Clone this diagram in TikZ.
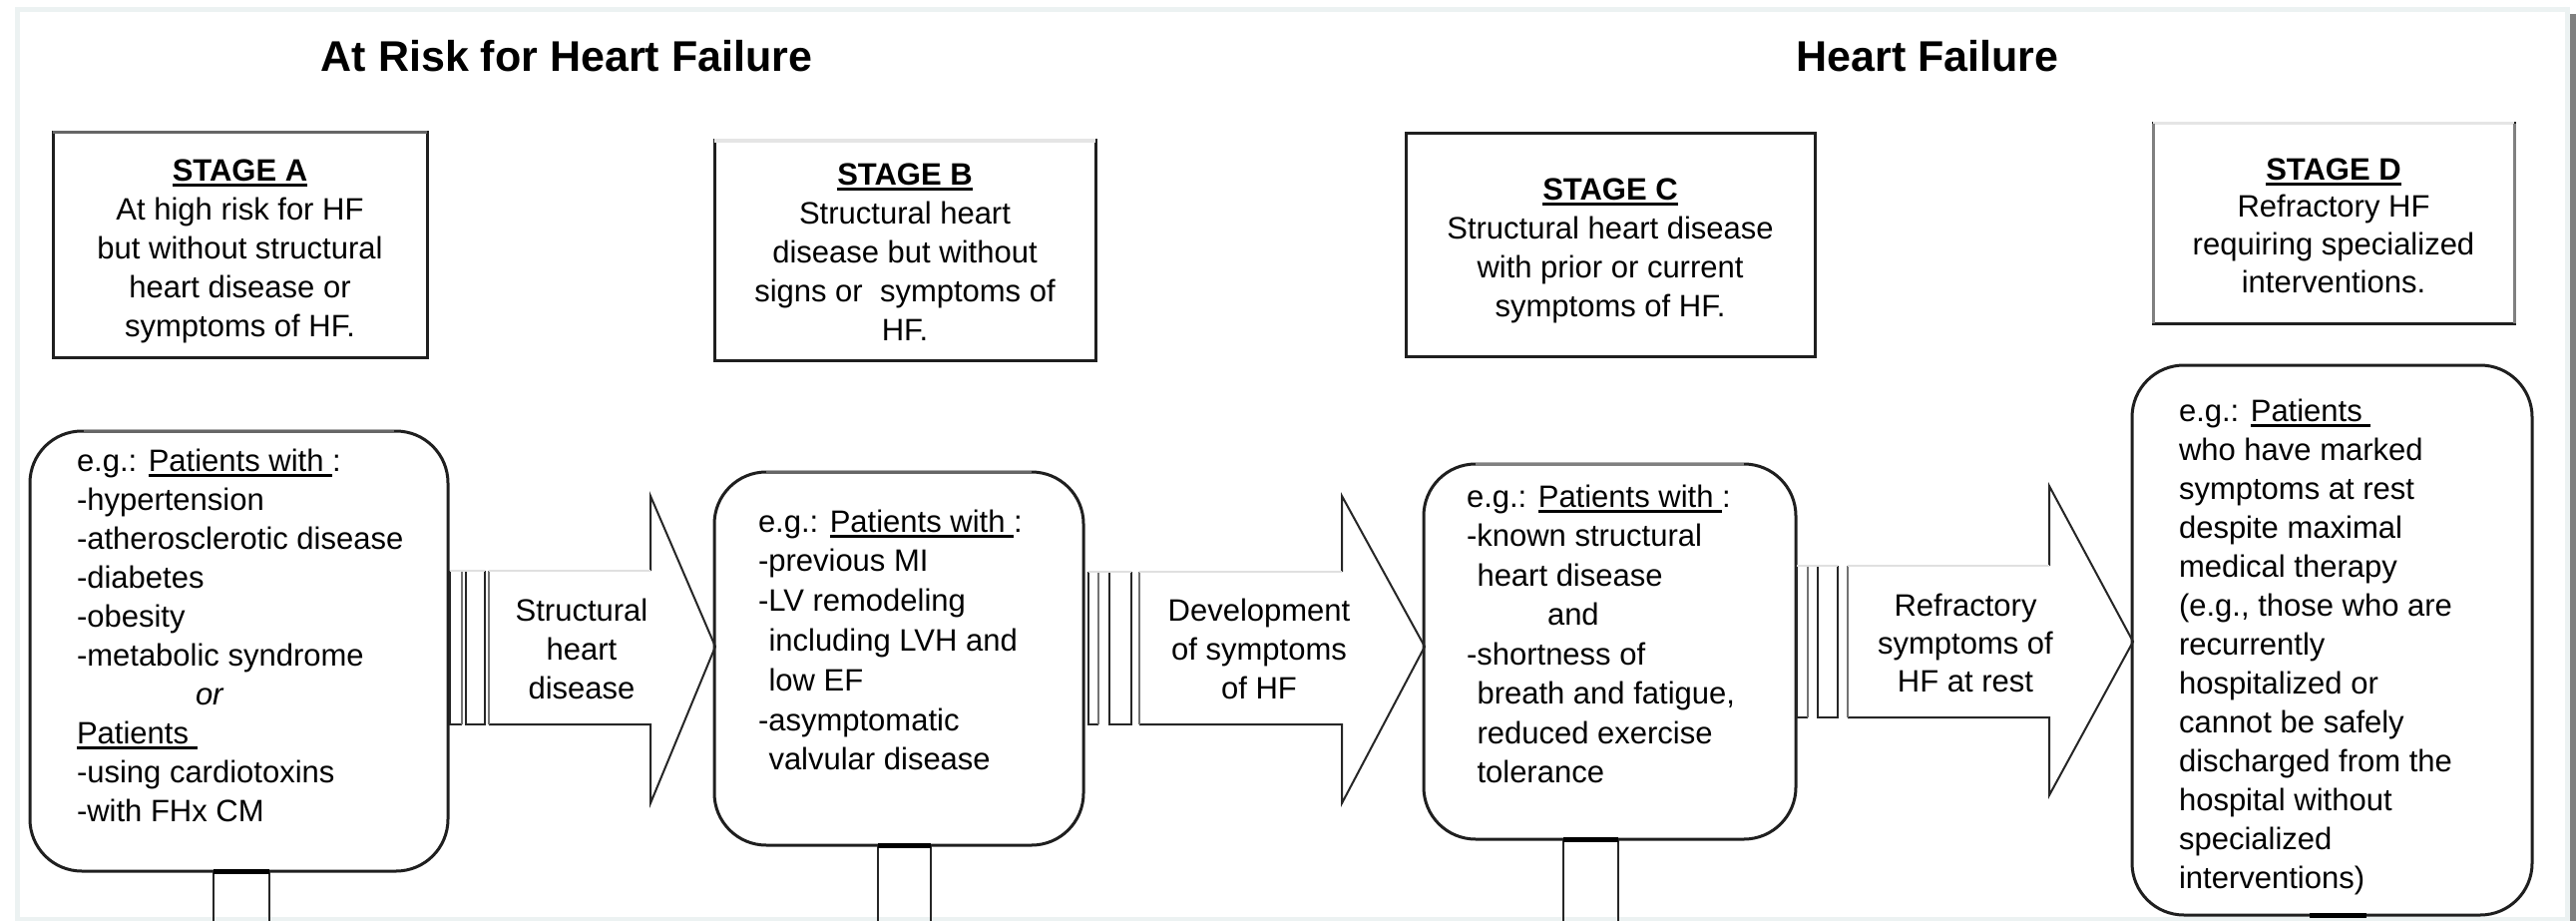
\documentclass[tikz,border=0pt]{standalone}
\usepackage{fontspec}
\setmainfont{Liberation Sans}
\newcommand\ul[1]{\setbox0\hbox{#1}\rlap{\rule[-6pt]{\wd0}{3pt}}\box0}
\newcommand\blk[2]{\begin{tabular}[t]{@{}#1@{}}#2\end{tabular}}
\begin{document}
\begin{tikzpicture}[x=1pt,y=-1pt,
  box/.style={draw=black!88,line width=3pt,inner sep=0pt,outer sep=0pt},
  rbox/.style={box,rounded corners=52pt},
  txt/.style={inner sep=0pt,outer sep=0pt,font=\fontsize{31}{39}\selectfont},
  ttl/.style={inner sep=0pt,anchor=base,font=\fontsize{43}{50}\selectfont\bfseries},
  arr/.style={draw=black!85,line width=2pt,line join=miter,miter limit=20},
  lite/.style={draw=black!12,line width=2pt},
  stem/.style={draw=black!85,line width=2.6pt},
  band/.style={draw=black,line width=5pt},
]
\fill[white] (0,0) rectangle (2582,923);
\useasboundingbox (0,0) rectangle (2582,923);
% page frame
\draw[color={rgb,255:red,236;green,242;blue,242},line width=5pt] (17,10) rectangle (2573,921);
\fill[black!50] (2576,14) rectangle (2582,923);

% titles
\node[ttl] (t1) at (568,72) {At Risk for Heart Failure};
\node[ttl] (t2) at (1932,72) {Heart Failure};

% stage boxes
\node[box,minimum width=375pt,minimum height=225pt] (sA) at (240.5,245.5) {};
\node[box,minimum width=382pt,minimum height=220pt] (sB) at (907,251) {};
\node[box,minimum width=410pt,minimum height=223pt] (sC) at (1614,245.5) {};
\node[box,minimum width=362pt,minimum height=200pt] (sD) at (2339,224) {};
\draw[line width=3pt,black!60] (sA.north west) -- (sA.north east);
\draw[line width=3pt,black!10] (sB.north west) -- (sB.north east);
\draw[line width=3pt,black!10] (sD.north west) -- (sD.north east);
\draw[line width=3pt,black!50] (sD.north west) -- (sD.south west);
\draw[line width=3pt,black!50] (sD.north east) -- (sD.south east);

\node[txt,anchor=base] (sAt) at (240.5,181) {\blk{c}{\textbf{\ul{STAGE A}}\\At high risk for HF\\but without structural\\heart disease or\\symptoms of HF.}};
\node[txt,anchor=base] (sBt) at (907,185) {\blk{c}{\textbf{\ul{STAGE B}}\\Structural heart\\disease but without\\signs or \ symptoms of\\HF.}};
\node[txt,anchor=base] (sCt) at (1614,200) {\blk{c}{\textbf{\ul{STAGE C}}\\Structural heart disease\\with prior or current\\symptoms of HF.}};
\node[txt,anchor=base,font=\fontsize{31}{37.8}\selectfont] (sDt) at (2339,180) {\blk{c}{\textbf{\ul{STAGE D}}\\Refractory HF\\requiring specialized\\interventions.}};

% rounded example boxes
\node[rbox,minimum width=419pt,minimum height=441pt] (rA) at (239.5,652.5) {};
\node[rbox,minimum width=370pt,minimum height=374pt] (rB) at (901,660) {};
\node[rbox,minimum width=373pt,minimum height=376pt] (rC) at (1613.5,653) {};
\node[rbox,minimum width=401pt,minimum height=551pt] (rD) at (2337.5,641.5) {};
\draw[line width=3pt,black!60] (84,432) -- (395,432);
\draw[line width=3pt,black!60] (768,473) -- (1034,473);
\draw[line width=3pt,black!50] (1479,465) -- (1748,465);

\node[txt,anchor=base west] (rAt) at (77,472) {\blk{l}{e.g.: \ul{Patients with }:\\-hypertension\\-atherosclerotic disease\\-diabetes\\-obesity\\-metabolic syndrome\\\hspace*{119pt}\textit{or}\\\ul{Patients }\\-using cardiotoxins\\-with FHx CM}};
\node[txt,anchor=base west,font=\fontsize{31}{39.8}\selectfont] (rBt) at (760,533) {\blk{l}{e.g.: \ul{Patients with }:\\-previous MI\\-LV remodeling\\\hspace*{10.5pt}including LVH and\\\hspace*{10.5pt}low EF\\-asymptomatic\\\hspace*{10.5pt}valvular disease}};
\node[txt,anchor=base west,font=\fontsize{31}{39.5}\selectfont] (rCt) at (1470,508) {\blk{l}{e.g.: \ul{Patients with }:\\-known structural\\\hspace*{10.5pt}heart disease\\\hspace*{81pt}and\\-shortness of\\\hspace*{10.5pt}breath and fatigue,\\\hspace*{10.5pt}reduced exercise\\\hspace*{10.5pt}tolerance}};
\node[txt,anchor=base west] (rDt) at (2184,422) {\blk{l}{e.g.: \ul{Patients }\\who have marked\\symptoms at rest\\despite maximal\\medical therapy\\(e.g., those who are\\recurrently\\hospitalized or\\cannot be safely\\discharged from the\\hospital without\\specialized\\interventions)}};

% stems below the example boxes
\coordinate (eA1) at (214,923); \coordinate (eA2) at (270,923);
\coordinate (eB1) at (880,923); \coordinate (eB2) at (933,923);
\coordinate (eC1) at (1567,923); \coordinate (eC2) at (1622,923);
\draw[stem] (eA1 |- rA.south) -- (eA1);
\draw[stem] (eA2 |- rA.south) -- (eA2);
\draw[stem] (eB1 |- rB.south) -- (eB1);
\draw[stem] (eB2 |- rB.south) -- (eB2);
\draw[stem] (eC1 |- rC.south) -- (eC1);
\draw[stem] (eC2 |- rC.south) -- (eC2);
\draw[band] (eA1 |- rA.south) -- (eA2 |- rA.south);
\draw[band] (eB1 |- rB.south) -- (eB2 |- rB.south);
\draw[band] (eC1 |- rC.south) -- (eC2 |- rC.south);
\draw[band] (2315,917) -- (2372,917);

% striped arrow 1
\draw[arr] (451,572) -- (451,726) -- (463,726);
\draw[arr,black!55] (463,572) -- (463,726);
\draw[arr] (467,572) -- (467,726) -- (486,726) -- (486,572);
\draw[lite] (451,572) -- (486,572);
\draw[arr] (490,726) -- (652,726) -- (652,805) -- (717,648) -- (652,497) -- (652,572);
\draw[arr,black!55] (490,572) -- (490,726);
\draw[lite] (490,572) -- (652,572);
\node[txt,anchor=base] (a1t) at (583,622) {\blk{c}{Structural\\heart\\disease}};

% striped arrow 2
\draw[arr] (1091,573) -- (1091,726) -- (1101,726);
\draw[arr,black!55] (1101,573) -- (1101,726);
\draw[arr] (1112,573) -- (1112,726) -- (1134,726) -- (1134,573);
\draw[lite] (1091,573) -- (1134,573);
\draw[arr] (1142,726) -- (1345,726) -- (1345,805) -- (1428,648) -- (1345,497) -- (1345,573);
\draw[arr,black!55] (1142,573) -- (1142,726);
\draw[lite] (1142,573) -- (1345,573);
\node[txt,anchor=base] (a2t) at (1262,622) {\blk{c}{Development\\of symptoms\\of HF}};

% striped arrow 3
\draw[arr] (1801,567) -- (1801,719) -- (1812,719);
\draw[arr,black!55] (1812,567) -- (1812,719);
\draw[arr] (1822,567) -- (1822,719) -- (1842,719) -- (1842,567);
\draw[lite] (1801,567) -- (1842,567);
\draw[arr] (1852,719) -- (2054,719) -- (2054,797) -- (2138,643) -- (2054,487) -- (2054,567);
\draw[arr,black!55] (1852,567) -- (1852,719);
\draw[lite] (1852,567) -- (2054,567);
\node[txt,anchor=base,font=\fontsize{31}{38}\selectfont] (a3t) at (1970,617) {\blk{c}{Refractory\\symptoms of\\HF at rest}};
\end{tikzpicture}
\end{document}
